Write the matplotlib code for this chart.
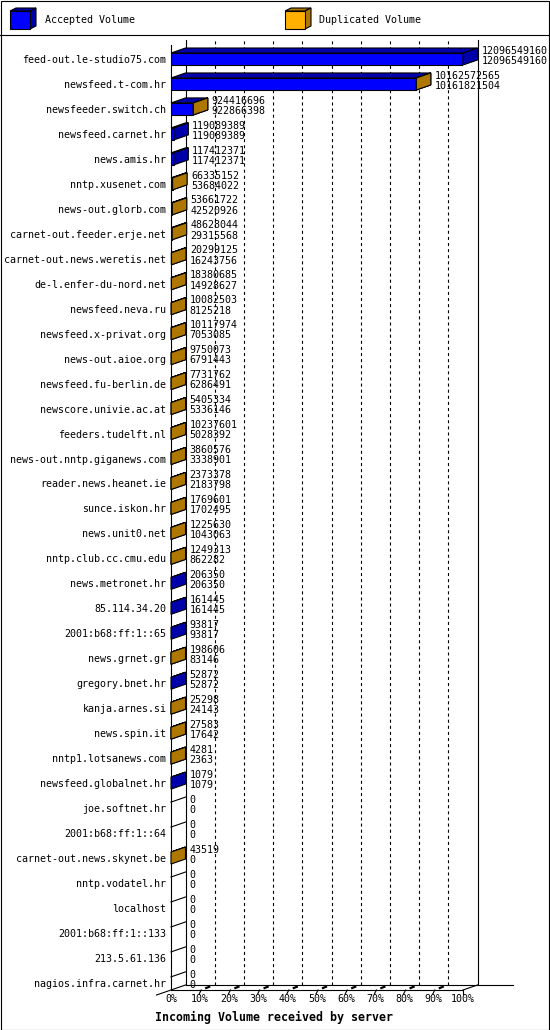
import matplotlib
matplotlib.use("Agg")
import matplotlib.pyplot as plt
from matplotlib.patches import Polygon, Rectangle
from matplotlib.lines import Line2D
from matplotlib.transforms import IdentityTransform

# ---------------- data ----------------
servers = [
    "feed-out.le-studio75.com", "newsfeed.t-com.hr", "newsfeeder.switch.ch",
    "newsfeed.carnet.hr", "news.amis.hr", "nntp.xusenet.com", "news-out.glorb.com",
    "carnet-out.feeder.erje.net", "carnet-out.news.weretis.net", "de-l.enfer-du-nord.net",
    "newsfeed.neva.ru", "newsfeed.x-privat.org", "news-out.aioe.org",
    "newsfeed.fu-berlin.de", "newscore.univie.ac.at", "feeders.tudelft.nl",
    "news-out.nntp.giganews.com", "reader.news.heanet.ie", "sunce.iskon.hr",
    "news.unit0.net", "nntp.club.cc.cmu.edu", "news.metronet.hr", "85.114.34.20",
    "2001:b68:ff:1::65", "news.grnet.gr", "gregory.bnet.hr", "kanja.arnes.si",
    "news.spin.it", "nntp1.lotsanews.com", "newsfeed.globalnet.hr", "joe.softnet.hr",
    "2001:b68:ff:1::64", "carnet-out.news.skynet.be", "nntp.vodatel.hr", "localhost",
    "2001:b68:ff:1::133", "213.5.61.136", "nagios.infra.carnet.hr",
]
# upper number printed next to each bar
total_volume = [
    12096549160, 10162572565, 924416696, 119089389, 117412371, 66335152, 53661722,
    48628044, 20299125, 18380685, 10082503, 10117974, 9750073, 7731762, 5405334,
    10237601, 3860576, 2373378, 1769601, 1225630, 1249313, 206350, 161445, 93817,
    198606, 52872, 25298, 27583, 4281, 1079, 0, 0, 43519, 0, 0, 0, 0, 0,
]
# lower number printed next to each bar
accepted_volume = [
    12096549160, 10161821504, 922866398, 119089389, 117412371, 53684022, 42520926,
    29315568, 16243756, 14928627, 8125218, 7053085, 6791443, 6286491, 5336146,
    5028392, 3338901, 2183798, 1702495, 1043063, 862282, 206350, 161445, 93817,
    83146, 52872, 24143, 17642, 2363, 1079, 0, 0, 0, 0, 0, 0, 0, 0,
]
pct_ticks = [0, 10, 20, 30, 40, 50, 60, 70, 80, 90, 100]
pct_labels = [f"{p}%" for p in pct_ticks]
legend_labels = ["Accepted Volume", "Duplicated Volume"]
x_title = "Incoming Volume received by server"

# ---------------- style ----------------
W, H, DPI = 550, 1030, 100
MONO = "DejaVu Sans Mono"
FS = 7.2
LW = 0.8
BLUE, BLUE_D = "#0000FF", "#0000AA"
ORNG, ORNG_D = "#FFB000", "#AE7800"
DX, DY = 14.5, 5.0          # 3D depth in pixels
PITCH = 24.97               # pixel distance between categories
BAR_PX = 12.0               # front face height in pixels
plt.rcParams["lines.scale_dashes"] = False

fig = plt.figure(figsize=(W / DPI, H / DPI), dpi=DPI)
fig.patch.set_facecolor("white")


def frect(x0, y0, x1, y1):
    """pixel box (top-left origin) -> figure fraction rect"""
    return [x0 / W, 1 - y1 / H, (x1 - x0) / W, (y1 - y0) / H]


n = len(servers)
maxv = max(total_volume)
y_bottom = (990 - 59) / PITCH
y_top = (45 - 59) / PITCH

# back wall
axb = fig.add_axes(frect(171 + DX, 45 - DY, 463 + DX, 990 - DY))
axb.set_xlim(0, maxv)
axb.set_ylim(y_bottom, y_top)
axb.set_xticks([])
axb.set_yticks([])
axb.spines["top"].set_visible(False)
for s in ("left", "right", "bottom"):
    axb.spines[s].set_linewidth(LW)
for p in pct_ticks[1:-1]:
    axb.axvline(maxv * p / 100, color="black", lw=LW, linestyle=(0, (2.2, 2.2)))
axb.plot([maxv, maxv * (513 - 171 - DX) / 292], [y_bottom, y_bottom],
         color="black", lw=LW, clip_on=False)
axb.set_zorder(0)

# front plane
ax = fig.add_axes(frect(171, 45, 463, 990))
ax.set_xlim(0, maxv)
ax.set_ylim(y_bottom, y_top)
ax.patch.set_alpha(0)
ax.set_zorder(1)
ax.spines["top"].set_visible(False)
ax.spines["right"].set_visible(False)
ax.spines["left"].set_linewidth(LW)
ax.spines["bottom"].set_linewidth(LW)
ax.set_yticks(range(n))
ax.set_yticklabels(servers, fontsize=FS, family=MONO)
ax.set_xticks([maxv * p / 100 for p in pct_ticks])
ax.set_xticklabels(pct_labels, fontsize=FS, family=MONO)
ax.tick_params(axis="y", length=0, pad=3.3)
ax.tick_params(axis="x", length=0, pad=3.0)

T = ax.transData
ID = IdentityTransform()
h = BAR_PX / PITCH


def face_polys(x0v, x1v, i):
    (xa, yt), = T.transform([(x0v, i - h / 2)])
    (xb, yb), = T.transform([(x1v, i + h / 2)])
    top = [(xa, yt), (xb, yt), (xb + DX, yt + DY), (xa + DX, yt + DY)]
    side = [(xb, yt), (xb + DX, yt + DY), (xb + DX, yb + DY), (xb, yb)]
    return top, side


def draw_segment(left, width, i, c_front, c_dark):
    ax.barh(i, width, left=left, height=h, color=c_front, edgecolor="black",
            linewidth=LW, zorder=3)
    top, side = face_polys(left, left + width, i)
    for poly in (top, side):
        ax.add_patch(Polygon(poly, closed=True, facecolor=c_dark, edgecolor="black",
                             linewidth=LW, transform=ID, clip_on=False, zorder=4))


for i in range(n):
    acc = accepted_volume[i]
    dup = total_volume[i] - acc
    if acc > 0:
        draw_segment(0, acc, i, BLUE, BLUE_D)
    if dup > 0:
        draw_segment(acc, dup, i, ORNG, ORNG_D)
    if acc == 0 and dup == 0:
        top, _ = face_polys(0, 0, i)
        ax.add_line(Line2D([top[0][0], top[3][0]], [top[0][1], top[3][1]],
                           color="black", lw=LW, transform=ID, clip_on=False, zorder=4))
    # value labels
    ax.annotate(str(total_volume[i]), xy=(total_volume[i], i), xycoords="data",
                xytext=(13.2, 6.0), textcoords="offset points", ha="left",
                va="center", fontsize=FS, family=MONO, annotation_clip=False, zorder=5)
    ax.annotate(str(acc), xy=(total_volume[i], i), xycoords="data",
                xytext=(13.2, -1.3), textcoords="offset points", ha="left",
                va="center", fontsize=FS, family=MONO, annotation_clip=False, zorder=5)

# 3D floor edges and tick marks
(x0f, yf), = T.transform([(0, y_bottom)])
(x1f, _), = T.transform([(maxv, y_bottom)])
for a, b in (((x0f - DX, yf - DY), (x0f + DX, yf + DY)),
             ((x1f, yf), (x1f + DX, yf + DY))):
    fig.add_artist(Line2D([a[0], b[0]], [a[1], b[1]], color="black", lw=LW, transform=ID))
for p in pct_ticks[1:]:
    (xt, _), = T.transform([(maxv * p / 100, y_bottom)])
    if p < 100:
        fig.add_artist(Line2D([xt - 1, xt + 1], [yf - 4, yf], color="black", lw=LW, transform=ID))
        fig.add_artist(Line2D([xt + 6, xt + 9], [yf + 2, yf + 3.2], color="black", lw=1.6,
                              transform=ID))
    else:
        fig.add_artist(Line2D([xt, xt], [yf - 4, yf], color="black", lw=LW, transform=ID))

fig.text(155 / W, 1 - 1017 / H, x_title, fontsize=8.4, family=MONO, fontweight="bold",
         ha="left", va="center")

# legend
axl = fig.add_axes(frect(0, 0, W, 35))
axl.set_xlim(0, W)
axl.set_ylim(35, 0)
axl.axis("off")
for (x0, label, cf, cd) in ((10, legend_labels[0], BLUE, BLUE_D),
                            (285, legend_labels[1], ORNG, ORNG_D)):
    fw, y0, y1, ddx, ddy = 20, 11, 29, 6, 3
    axl.add_patch(Polygon([(x0, y0), (x0 + fw, y0), (x0 + fw + ddx, y0 - ddy), (x0 + ddx, y0 - ddy)],
                          closed=True, fc=cd, ec="black", lw=LW))
    axl.add_patch(Polygon([(x0 + fw, y0), (x0 + fw + ddx, y0 - ddy), (x0 + fw + ddx, y1 - ddy), (x0 + fw, y1)],
                          closed=True, fc=cd, ec="black", lw=LW))
    axl.add_patch(Rectangle((x0, y0), fw, y1 - y0, fc=cf, ec="black", lw=LW))
    axl.text(x0 + 35 if x0 < 100 else x0 + 34, 20, label, fontsize=FS, family=MONO,
             ha="left", va="center")

# frame and legend separator
fig.add_artist(Rectangle((0.5 / W, 0.5 / H), (W - 1.5) / W, (H - 1.5) / H,
                         transform=fig.transFigure, fill=False, ec="black", lw=LW))
fig.add_artist(Line2D([0, 1], [1 - 35 / H, 1 - 35 / H], color="black", lw=LW,
                      transform=fig.transFigure))

fig.savefig("out.png", dpi=DPI)
